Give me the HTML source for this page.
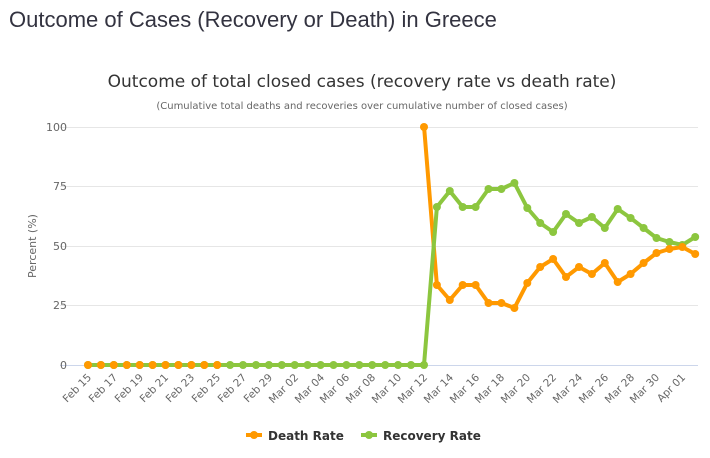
<!DOCTYPE html>
<html><head><meta charset="utf-8"><style>
html,body{margin:0;padding:0;background:#fff;width:710px;height:458px;overflow:hidden}
svg{display:block}
</style></head><body>
<svg width="710" height="458" xmlns="http://www.w3.org/2000/svg" font-family="'DejaVu Sans', 'Liberation Sans', sans-serif">
<text x="9" y="27" font-family="'Liberation Sans', sans-serif" font-size="22" fill="#333340">Outcome of Cases (Recovery or Death) in Greece</text>
<text x="362" y="87" text-anchor="middle" font-size="17" fill="#333">Outcome of total closed cases (recovery rate vs death rate)</text>
<text x="362" y="109" text-anchor="middle" font-size="10" fill="#666">(Cumulative total deaths and recoveries over cumulative number of closed cases)</text>
<g stroke="#e6e6e6" stroke-width="1">
<line x1="60" y1="127.5" x2="698" y2="127.5"/>
<line x1="60" y1="186.5" x2="698" y2="186.5"/>
<line x1="60" y1="246.5" x2="698" y2="246.5"/>
<line x1="60" y1="305.5" x2="698" y2="305.5"/>
</g>
<line x1="60" y1="365.5" x2="698" y2="365.5" stroke="#ccd6eb"/>
<g font-size="11" fill="#666" text-anchor="end">
<text x="67" y="131">100</text><text x="67" y="190">75</text><text x="67" y="250">50</text><text x="67" y="309">25</text><text x="67" y="369">0</text>
</g>
<text transform="translate(36,246) rotate(-90)" text-anchor="middle" font-size="11" fill="#666">Percent (%)</text>
<g font-size="10.5" fill="#666" text-anchor="end">
<text transform="translate(92,378) rotate(-45)">Feb 15</text>
<text transform="translate(118,378) rotate(-45)">Feb 17</text>
<text transform="translate(144,378) rotate(-45)">Feb 19</text>
<text transform="translate(169,378) rotate(-45)">Feb 21</text>
<text transform="translate(195,378) rotate(-45)">Feb 23</text>
<text transform="translate(221,378) rotate(-45)">Feb 25</text>
<text transform="translate(247,378) rotate(-45)">Feb 27</text>
<text transform="translate(273,378) rotate(-45)">Feb 29</text>
<text transform="translate(299,378) rotate(-45)">Mar 02</text>
<text transform="translate(325,378) rotate(-45)">Mar 04</text>
<text transform="translate(350,378) rotate(-45)">Mar 06</text>
<text transform="translate(376,378) rotate(-45)">Mar 08</text>
<text transform="translate(402,378) rotate(-45)">Mar 10</text>
<text transform="translate(428,378) rotate(-45)">Mar 12</text>
<text transform="translate(454,378) rotate(-45)">Mar 14</text>
<text transform="translate(480,378) rotate(-45)">Mar 16</text>
<text transform="translate(505,378) rotate(-45)">Mar 18</text>
<text transform="translate(531,378) rotate(-45)">Mar 20</text>
<text transform="translate(557,378) rotate(-45)">Mar 22</text>
<text transform="translate(583,378) rotate(-45)">Mar 24</text>
<text transform="translate(609,378) rotate(-45)">Mar 26</text>
<text transform="translate(635,378) rotate(-45)">Mar 28</text>
<text transform="translate(660,378) rotate(-45)">Mar 30</text>
<text transform="translate(686,378) rotate(-45)">Apr 01</text>
</g>
<!-- death -->
<polyline fill="none" stroke="#ff9900" stroke-width="4" stroke-linejoin="round" points="88,365 217.2,365"/>
<polyline fill="none" stroke="#ff9900" stroke-width="4" stroke-linejoin="round" points="424,126 436.9,285 449.8,300 462.7,285 475.6,285 488.5,303 501.4,303 514.4,308 527.3,283 540.2,267 553.1,259 566,277 579,267 591.9,274 604.8,263 617.7,282 630.6,274 643.6,263 656.5,253 669.4,249 682.3,247 695.2,254"/>
<!-- recovery -->
<polyline fill="none" stroke="#8cc63f" stroke-width="4" stroke-linejoin="round" points="88,365 424,365 436.9,207 449.8,191 462.7,207 475.6,207 488.5,189 501.4,189 514.4,183 527.3,208 540.2,223 553.1,232 566,214 579,223 591.9,217 604.8,228 617.7,209 630.6,218 643.6,228 656.5,238 669.4,242 682.3,245 695.2,237"/>
<g fill="#8cc63f">
<circle cx="88" cy="365" r="4"/><circle cx="100.9" cy="365" r="4"/><circle cx="113.8" cy="365" r="4"/><circle cx="126.8" cy="365" r="4"/><circle cx="139.7" cy="365" r="4"/><circle cx="152.6" cy="365" r="4"/><circle cx="165.5" cy="365" r="4"/><circle cx="178.4" cy="365" r="4"/><circle cx="191.4" cy="365" r="4"/><circle cx="204.3" cy="365" r="4"/><circle cx="217.2" cy="365" r="4"/><circle cx="230.1" cy="365" r="4"/><circle cx="243" cy="365" r="4"/><circle cx="256" cy="365" r="4"/><circle cx="268.9" cy="365" r="4"/><circle cx="281.8" cy="365" r="4"/><circle cx="294.7" cy="365" r="4"/><circle cx="307.6" cy="365" r="4"/><circle cx="320.6" cy="365" r="4"/><circle cx="333.5" cy="365" r="4"/><circle cx="346.4" cy="365" r="4"/><circle cx="359.3" cy="365" r="4"/><circle cx="372.2" cy="365" r="4"/><circle cx="385.2" cy="365" r="4"/><circle cx="398.1" cy="365" r="4"/><circle cx="411" cy="365" r="4"/><circle cx="424" cy="365" r="4"/>
<circle cx="436.9" cy="207" r="4"/><circle cx="449.8" cy="191" r="4"/><circle cx="462.7" cy="207" r="4"/><circle cx="475.6" cy="207" r="4"/><circle cx="488.5" cy="189" r="4"/><circle cx="501.4" cy="189" r="4"/><circle cx="514.4" cy="183" r="4"/><circle cx="527.3" cy="208" r="4"/><circle cx="540.2" cy="223" r="4"/><circle cx="553.1" cy="232" r="4"/><circle cx="566" cy="214" r="4"/><circle cx="579" cy="223" r="4"/><circle cx="591.9" cy="217" r="4"/><circle cx="604.8" cy="228" r="4"/><circle cx="617.7" cy="209" r="4"/><circle cx="630.6" cy="218" r="4"/><circle cx="643.6" cy="228" r="4"/><circle cx="656.5" cy="238" r="4"/><circle cx="669.4" cy="242" r="4"/><circle cx="682.3" cy="245" r="4"/><circle cx="695.2" cy="237" r="4"/>
</g>
<g fill="#ff9900">
<circle cx="88" cy="365" r="4"/><circle cx="100.9" cy="365" r="4"/><circle cx="113.8" cy="365" r="4"/><circle cx="126.8" cy="365" r="4"/><circle cx="139.7" cy="365" r="4"/><circle cx="152.6" cy="365" r="4"/><circle cx="165.5" cy="365" r="4"/><circle cx="178.4" cy="365" r="4"/><circle cx="191.4" cy="365" r="4"/><circle cx="204.3" cy="365" r="4"/><circle cx="217.2" cy="365" r="4"/>
<circle cx="424" cy="127" r="4"/><circle cx="436.9" cy="285" r="4"/><circle cx="449.8" cy="300" r="4"/><circle cx="462.7" cy="285" r="4"/><circle cx="475.6" cy="285" r="4"/><circle cx="488.5" cy="303" r="4"/><circle cx="501.4" cy="303" r="4"/><circle cx="514.4" cy="308" r="4"/><circle cx="527.3" cy="283" r="4"/><circle cx="540.2" cy="267" r="4"/><circle cx="553.1" cy="259" r="4"/><circle cx="566" cy="277" r="4"/><circle cx="579" cy="267" r="4"/><circle cx="591.9" cy="274" r="4"/><circle cx="604.8" cy="263" r="4"/><circle cx="617.7" cy="282" r="4"/><circle cx="630.6" cy="274" r="4"/><circle cx="643.6" cy="263" r="4"/><circle cx="656.5" cy="253" r="4"/><circle cx="669.4" cy="249" r="4"/><circle cx="682.3" cy="247" r="4"/><circle cx="695.2" cy="254" r="4"/>
</g>
<!-- legend -->
<line x1="246" y1="435" x2="262" y2="435" stroke="#ff9900" stroke-width="4"/><circle cx="254" cy="435" r="4" fill="#ff9900"/>
<text x="268" y="440" font-size="12" font-weight="bold" fill="#333">Death Rate</text>
<line x1="361" y1="435" x2="377" y2="435" stroke="#8cc63f" stroke-width="4"/><circle cx="369" cy="435" r="4" fill="#8cc63f"/>
<text x="383" y="440" font-size="12" font-weight="bold" fill="#333">Recovery Rate</text>
</svg>
</body></html>
